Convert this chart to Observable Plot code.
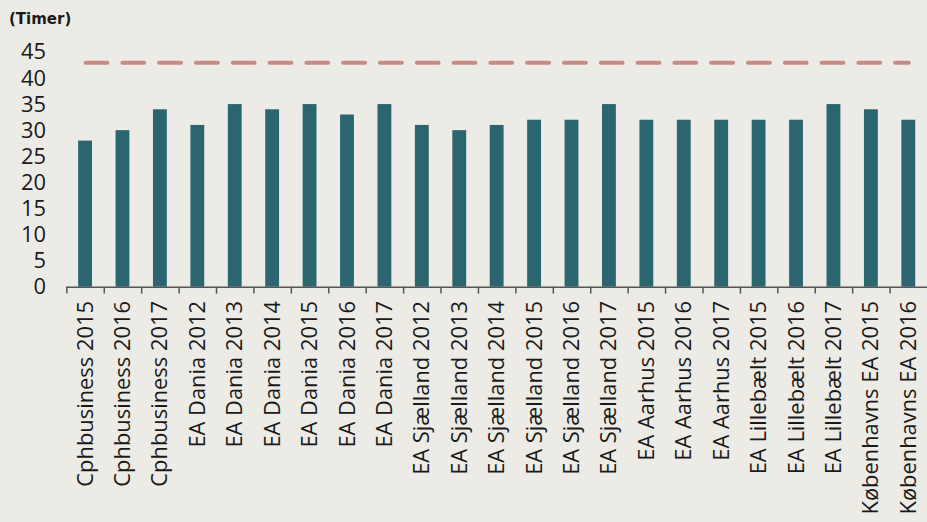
<!DOCTYPE html>
<html>
<head>
<meta charset="utf-8">
<script src="https://cdn.jsdelivr.net/npm/d3@7"></script>
<script src="https://cdn.jsdelivr.net/npm/@observablehq/plot@0.6"></script>
<style>
  html, body { margin: 0; padding: 0; background: #edebe6; overflow: hidden; width: 927px; height: 522px; }
  #title { box-sizing: border-box; height: 36px; padding: 12px 0 0 9px; font: bold 15px/15px "DejaVu Sans", sans-serif; color: #1a1a1a; }
  #chart svg { display: block; }
</style>
</head>
<body>
<div id="title">(Timer)</div>
<div id="chart"></div>
<script>
const categories = [
  "Cphbusiness 2015", "Cphbusiness 2016", "Cphbusiness 2017",
  "EA Dania 2012", "EA Dania 2013", "EA Dania 2014", "EA Dania 2015", "EA Dania 2016", "EA Dania 2017",
  "EA Sjælland 2012", "EA Sjælland 2013", "EA Sjælland 2014", "EA Sjælland 2015", "EA Sjælland 2016", "EA Sjælland 2017",
  "EA Aarhus 2015", "EA Aarhus 2016", "EA Aarhus 2017",
  "EA Lillebælt 2015", "EA Lillebælt 2016", "EA Lillebælt 2017",
  "Københavns EA 2015", "Københavns EA 2016"
];
const values = [28, 30, 34, 31, 35, 34, 35, 33, 35, 31, 30, 31, 32, 32, 35, 32, 32, 32, 32, 32, 35, 34, 32];
const yTicks = [0, 5, 10, 15, 20, 25, 30, 35, 40, 45];
const targetValue = 43;

const data = categories.map((c, i) => ({label: c, value: values[i]}));
const target = categories.map(c => ({label: c, value: targetValue}));

const chart = Plot.plot({
  width: 932,
  height: 486,
  marginTop: 16,
  marginBottom: 234,
  marginLeft: 66.7,
  marginRight: 0,
  style: {background: "transparent", fontFamily: "'Open Sans', sans-serif", fontSize: "22px", color: "#1a1a1a", overflow: "visible"},
  x: {domain: categories, paddingInner: 0.63, paddingOuter: 0.315, align: 0.5, round: false},
  y: {domain: [0, 45]},
  marks: [
    Plot.barY(data, {x: "label", y: "value", fill: "#2a6570"}),
    Plot.ruleY([0], {stroke: "#555", strokeWidth: 1.5}),
    Plot.ruleX(categories, {x: d => d, y1: 0, y2: 0, insetBottom: -7, dx: -18.8, stroke: "#555", strokeWidth: 1.5}),
    Plot.lineY(target, {x: "label", y: "value", stroke: "#c98a86", strokeWidth: 4, strokeDasharray: "22 15", strokeLinecap: "round"}),
    Plot.axisY({ticks: yTicks, tickSize: 0, tickPadding: 21, fontSize: 22, fill: "#1a1a1a", label: null}),
    Plot.axisX({tickSize: 0, tickPadding: 14, tickRotate: -90, fontSize: 22, fill: "#1a1a1a", label: null})
  ]
});
document.getElementById("chart").appendChild(chart);
</script>
</body>
</html>
